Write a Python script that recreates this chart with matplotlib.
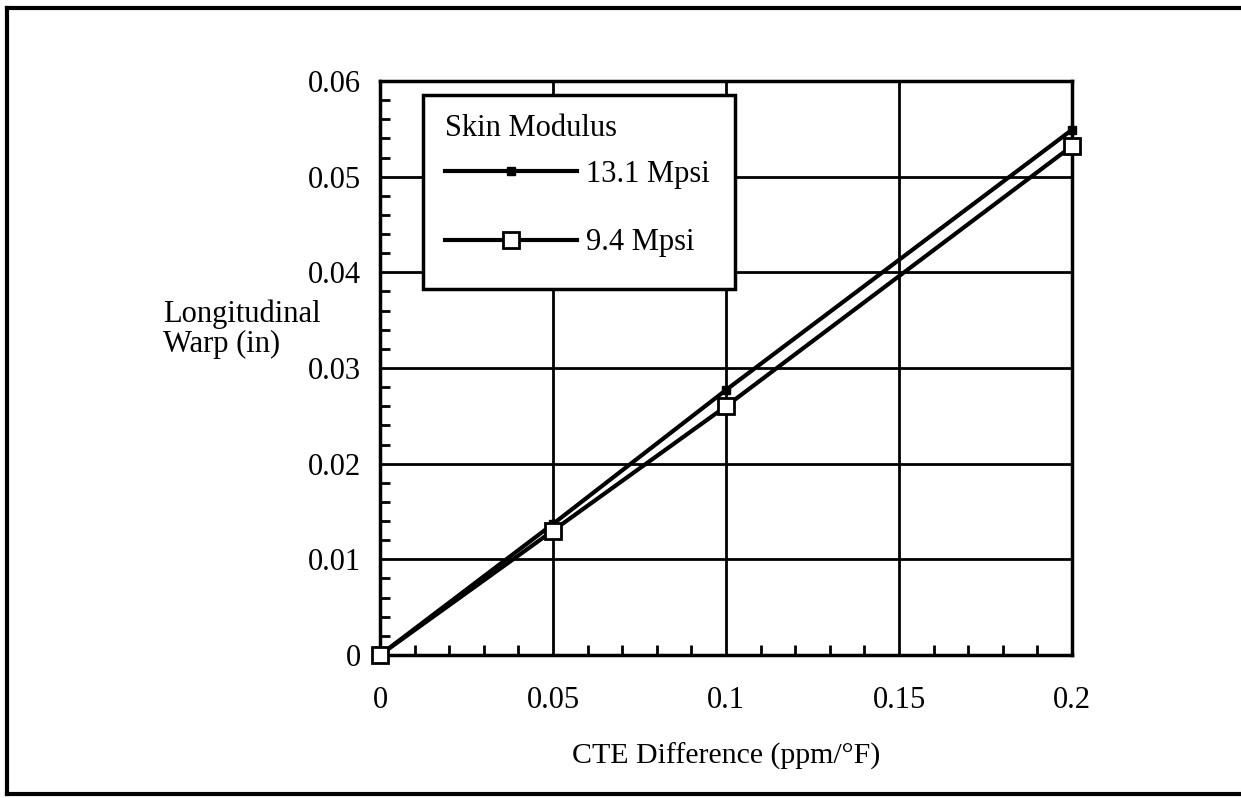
import matplotlib
matplotlib.use('Agg')
import matplotlib.pyplot as plt
from matplotlib.lines import Line2D
from matplotlib.patches import Rectangle
from matplotlib.ticker import MultipleLocator

plt.rcParams['font.family'] = ['Liberation Serif', 'DejaVu Serif']

# ── data ─────────────────────────────────────────────────────────────────────
cte_diff = [0.0, 0.05, 0.1, 0.2]
warp_131 = [0.0, 0.0137, 0.0277, 0.0549]
warp_94 = [0.0, 0.0130, 0.0260, 0.0532]
series_labels = ['13.1 Mpsi', '9.4 Mpsi']
x_ticks = [0, 0.05, 0.1, 0.15, 0.2]
x_ticklabels = ['0', '0.05', '0.1', '0.15', '0.2']
y_ticks = [0, 0.01, 0.02, 0.03, 0.04, 0.05, 0.06]
y_ticklabels = ['0', '0.01', '0.02', '0.03', '0.04', '0.05', '0.06']

W, H = 1241, 798
FS = 22

fig = plt.figure(figsize=(W / 100, H / 100), dpi=100)
ax = fig.add_axes([380 / W, 1 - 655 / H, (1072 - 380) / W, (655 - 81) / H])

ax.plot(cte_diff, warp_131, color='black', lw=3, marker='s', ms=6,
        mfc='black', mec='black', label=series_labels[0], zorder=5,
        clip_on=False)
ax.plot(cte_diff, warp_94, color='black', lw=3, marker='s', ms=11,
        mfc='white', mec='black', mew=2, label=series_labels[1], zorder=6,
        clip_on=False)

ax.set_xlim(0, 0.2)
ax.set_ylim(0, 0.06)
ax.set_xticks(x_ticks)
ax.set_xticklabels(x_ticklabels)
ax.set_yticks(y_ticks)
ax.set_yticklabels(y_ticklabels)
ax.xaxis.set_minor_locator(MultipleLocator(0.01))
ax.yaxis.set_minor_locator(MultipleLocator(0.002))
ax.tick_params(which='major', length=0, labelsize=FS, pad=22)
ax.tick_params(axis='y', which='major', pad=14)
ax.tick_params(which='minor', direction='in', length=7, width=2)
ax.grid(which='major', color='black', lw=2)
for sp in ax.spines.values():
    sp.set_linewidth(2.5)

# legend box (white, framed) with the legend entries on top
ax.add_patch(Rectangle((0.0621, 0.6376), 0.513 - 0.0621, 0.9756 - 0.6376,
                       transform=ax.transAxes, facecolor='white',
                       edgecolor='black', lw=2.5, zorder=9))
leg = ax.legend(title='Skin Modulus', loc='upper left',
                bbox_to_anchor=(0.067, 0.976), fontsize=FS, title_fontsize=FS,
                alignment='left', frameon=False, handlelength=4.3,
                handletextpad=0.3, labelspacing=1.3,
                borderpad=0.62, borderaxespad=0)
leg.set_zorder(10)
# title sits closer to the first entry than the entries to each other
leg._legend_box.sep = 0.4 * FS * 100 / 72

ax.set_xlabel('CTE Difference (ppm/°F)', fontsize=21.5, labelpad=20)

fig.text(163 / W, 1 - 329 / H, 'Longitudinal\nWarp (in)', fontsize=FS,
         ha='left', va='center', linespacing=1.05)

# outer frame
for xs, ys in [([7, W], [8, 8]), ([7, 7], [8, 794]), ([7, W], [794, 794])]:
    fig.add_artist(Line2D([x / W for x in xs], [1 - y / H for y in ys],
                          color='black', lw=3, transform=fig.transFigure))

fig.savefig('out.png', dpi=100)
